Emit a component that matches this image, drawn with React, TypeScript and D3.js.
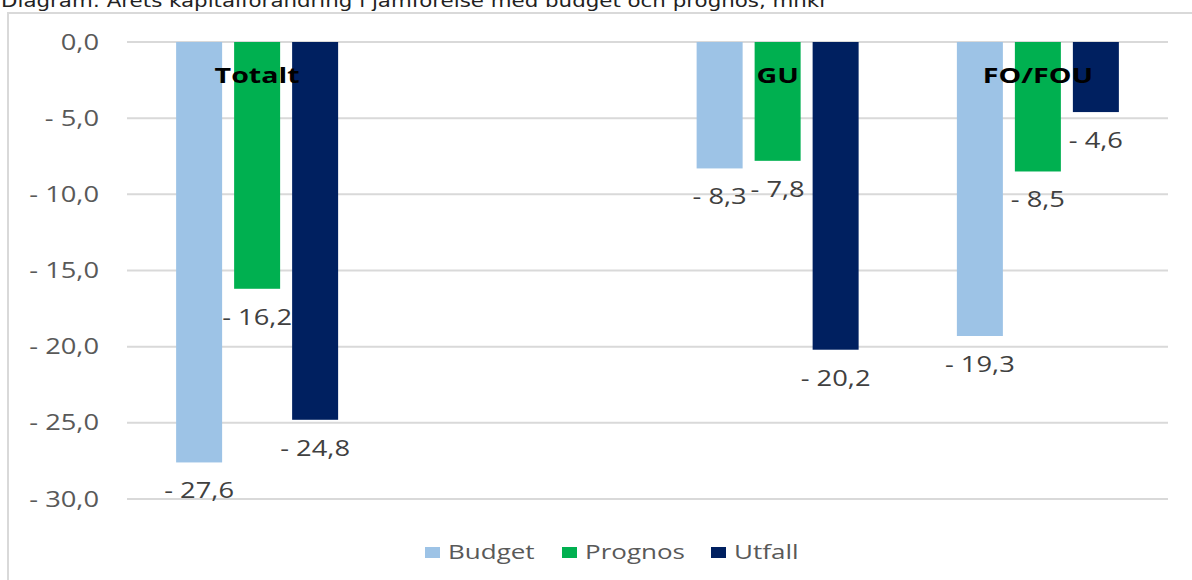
import React from "react";
import * as d3 from "d3";

const categories = ["Totalt", "", "GU", "FO/FOU"];
const seriesNames = ["Budget", "Prognos", "Utfall"];
const budget: (number | null)[] = [-27.6, null, -8.3, -19.3];
const prognos: (number | null)[] = [-16.2, null, -7.8, -8.5];
const utfall: (number | null)[] = [-24.8, null, -20.2, -4.6];
const yTicks = [0, -5, -10, -15, -20, -25, -30];
const title = "Diagram: Årets kapitalförändring i jämförelse med budget och prognos, mnkr";

const colors = ["#9DC3E6", "#00B050", "#002060"];
const seriesValues = [budget, prognos, utfall];

const W = 1192;
const H = 580;
const SX = 1.3;
const FONT = "'Open Sans', 'Noto Sans', sans-serif";

const fmt = (v: number) => (v === 0 ? "0,0" : "- " + Math.abs(v).toFixed(1).replace(".", ","));

function SText(props: {
  x: number;
  y: number;
  anchor?: string;
  size: number;
  fill: string;
  weight?: string | number;
  children: React.ReactNode;
}) {
  const { x, y, anchor = "start", size, fill, weight = "normal", children } = props;
  return (
    <text
      transform={`translate(${x},${y}) scale(${SX},1)`}
      textAnchor={anchor}
      fontFamily={FONT}
      fontSize={size}
      fill={fill}
      fontWeight={weight}
    >
      {children}
    </text>
  );
}

export default function App() {
  const x0 = d3.scaleBand<string>().domain(categories).range([127, 1168]).paddingInner(0).paddingOuter(0);
  const groupW = 162;
  const x1 = d3
    .scaleBand<string>()
    .domain(seriesNames)
    .range([0, groupW])
    .paddingInner(12 / 58)
    .paddingOuter(0);
  const y = d3.scaleLinear().domain([0, -30]).range([42, 499]);
  const bw = x0.bandwidth();

  const legendX = [425, 562, 711];

  return (
    <svg
      width={W}
      height={H}
      style={{ position: "absolute", left: 0, top: 0, background: "#fff" }}
    >
      <rect x={0} y={0} width={W} height={H} fill="#fff" />
      <text
        x={1}
        y={7}
        fontFamily="'DejaVu Sans', Verdana, sans-serif"
        fontSize={17}
        fill="#222"
        textLength={827}
        lengthAdjust="spacingAndGlyphs"
      >
        {title}
      </text>
      <path d={`M8,${H} V13 H${W}`} fill="none" stroke="#d9d9d9" strokeWidth={2} />

      {yTicks.map((t) => (
        <g key={t}>
          <line x1={127} x2={1168} y1={y(t)} y2={y(t)} stroke="#d9d9d9" strokeWidth={2} />
          <SText x={99} y={y(t) + 7.5} anchor="end" size={21} fill="#595959">
            {fmt(t)}
          </SText>
        </g>
      ))}

      {categories.map((c, ci) => {
        const gx = (x0(c) as number) + (bw - groupW) / 2;
        return (
          <g key={"g" + ci}>
            {seriesNames.map((s, si) => {
              const v = seriesValues[si][ci];
              if (v == null) return null;
              const bx = gx + (x1(s) as number);
              return (
                <rect
                  key={s}
                  x={bx}
                  y={y(0)}
                  width={x1.bandwidth()}
                  height={y(v) - y(0)}
                  fill={colors[si]}
                />
              );
            })}
          </g>
        );
      })}

      {categories.map((c, ci) => {
        const gx = (x0(c) as number) + (bw - groupW) / 2;
        return (
          <g key={"l" + ci}>
            {seriesNames.map((s, si) => {
              const v = seriesValues[si][ci];
              if (v == null) return null;
              const cx = gx + (x1(s) as number) + x1.bandwidth() / 2;
              return (
                <SText key={s} x={cx} y={y(v) + 36} anchor="middle" size={21} fill="#404040">
                  {fmt(v)}
                </SText>
              );
            })}
            {c && (
              <SText x={(x0(c) as number) + bw / 2} y={83} anchor="middle" size={22} fill="#000" weight="bold">
                {c}
              </SText>
            )}
          </g>
        );
      })}

      {seriesNames.map((s, si) => (
        <g key={"leg" + s}>
          <rect x={legendX[si]} y={547} width={15} height={11} fill={colors[si]} />
          <SText x={legendX[si] + 23} y={559} size={20} fill="#595959">
            {s}
          </SText>
        </g>
      ))}
    </svg>
  );
}
